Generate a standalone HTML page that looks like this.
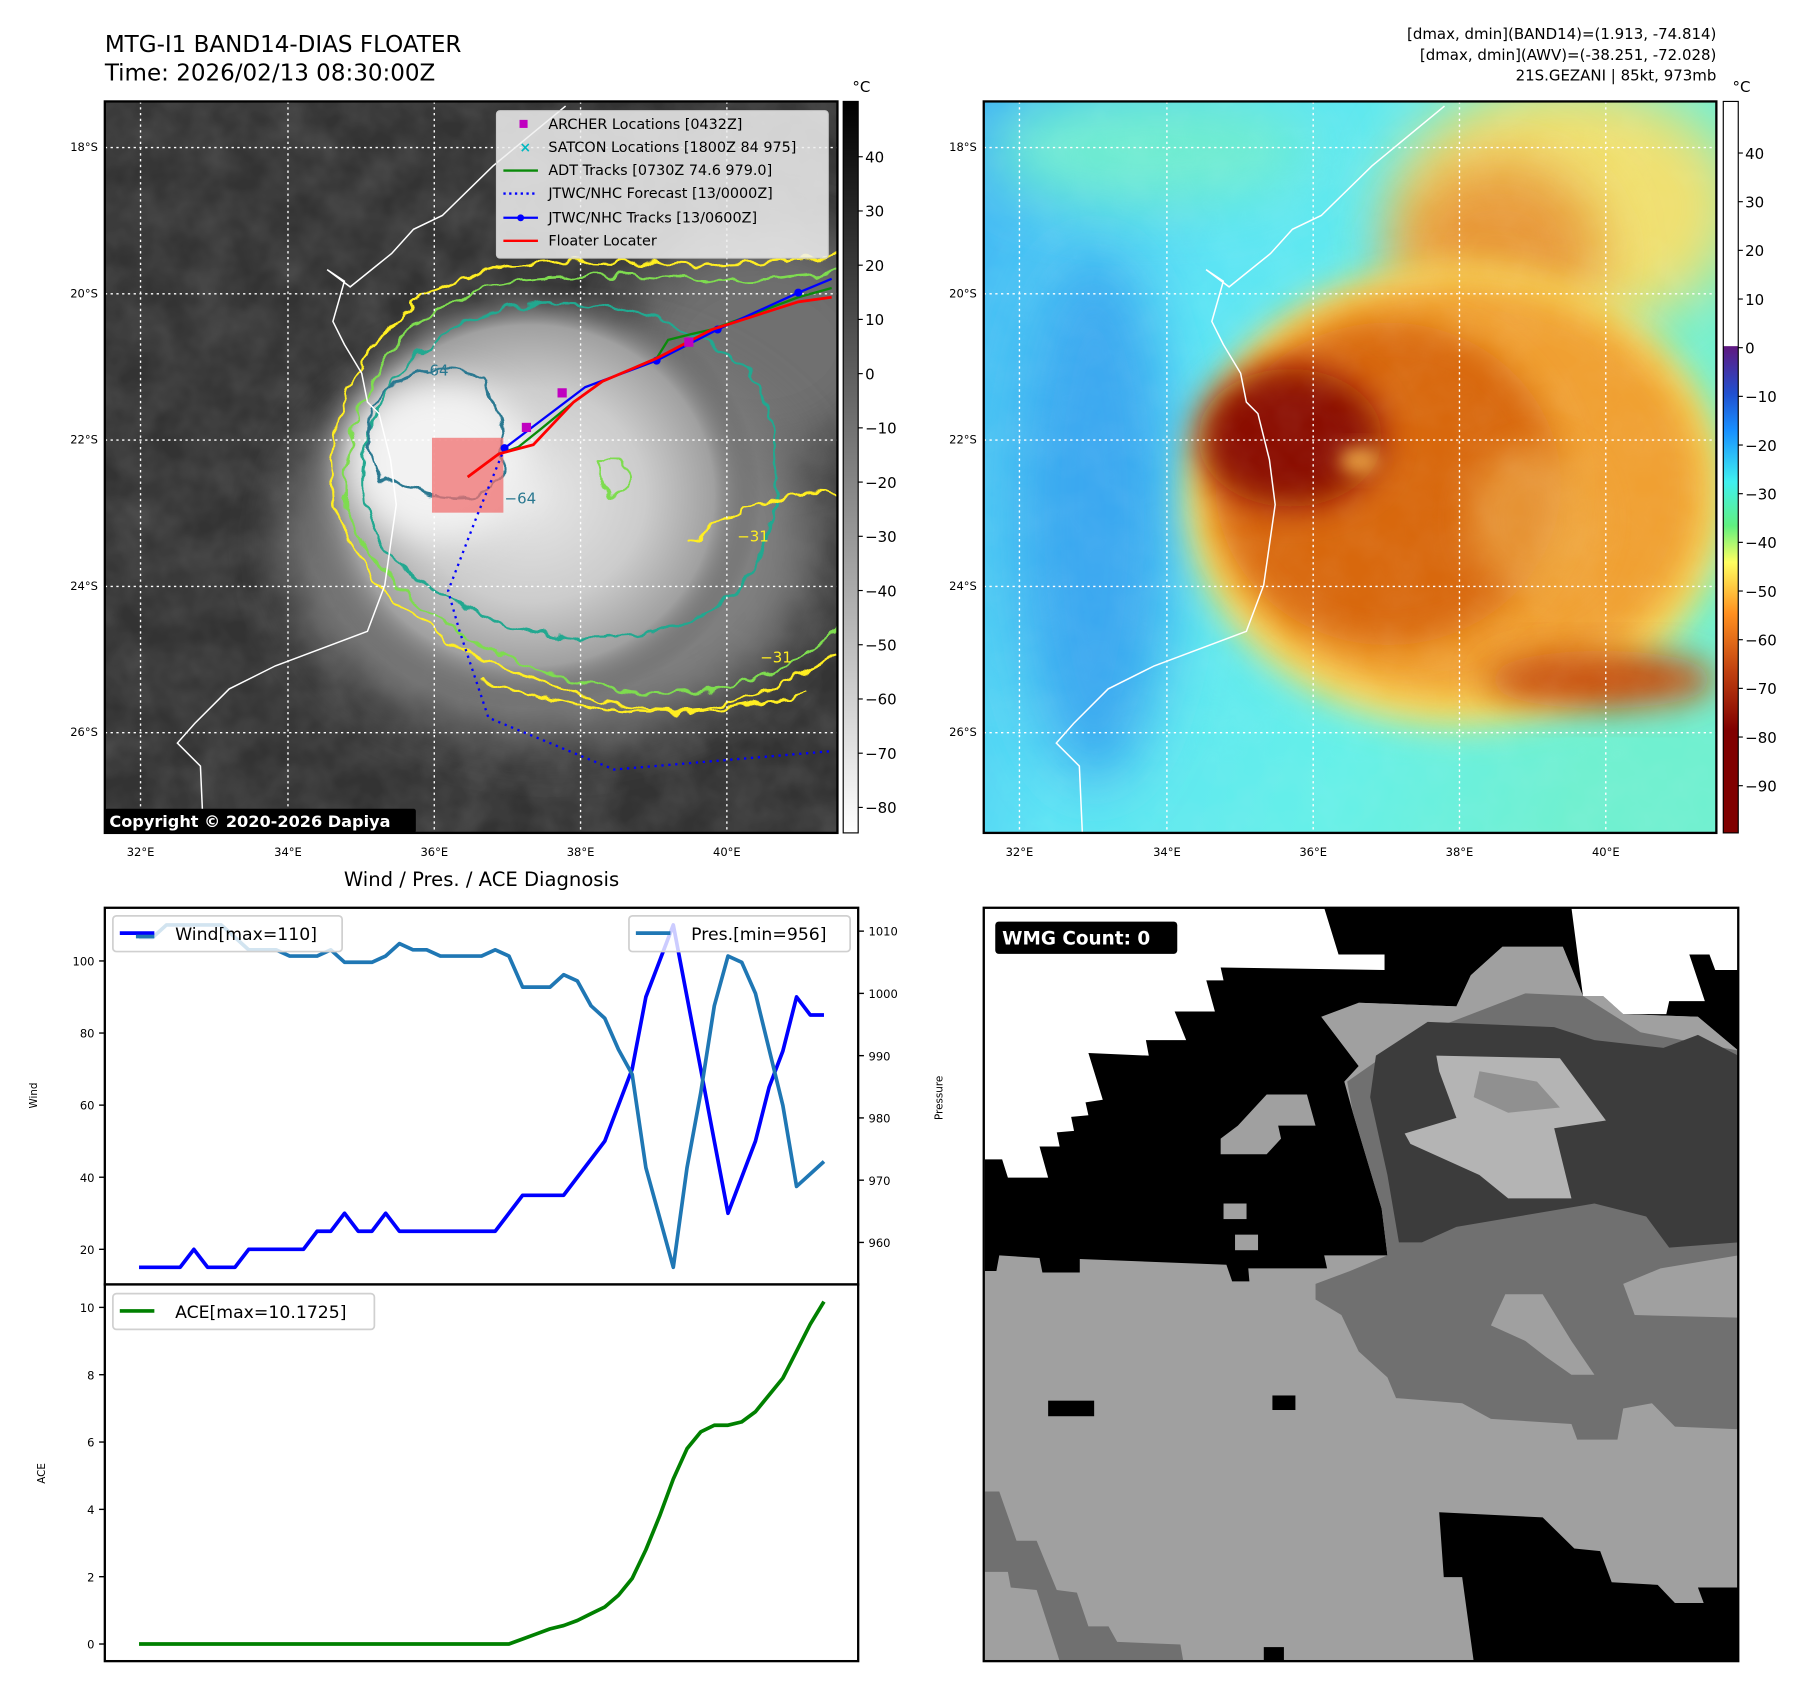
<!DOCTYPE html>
<html><head><meta charset="utf-8">
<style>
html,body{margin:0;padding:0;background:#fff;}
svg{display:block;font-family:"DejaVu Sans","Liberation Sans",sans-serif;}
</style></head>
<body>
<svg id="root" width="1797" height="1690" viewBox="0 0 1560 1467" xmlns="http://www.w3.org/2000/svg">
<defs>
  <clipPath id="clip1"><rect x="91" y="88" width="636" height="635"/></clipPath>
  <clipPath id="clip2"><rect x="854" y="88" width="636" height="635"/></clipPath>
  <clipPath id="clip4"><rect x="854" y="788" width="655" height="654"/></clipPath>
  <filter id="blur8" x="-50%" y="-50%" width="200%" height="200%"><feGaussianBlur stdDeviation="8"/></filter>
  <filter id="blur15" x="-50%" y="-50%" width="200%" height="200%"><feGaussianBlur stdDeviation="15"/></filter>
  <filter id="blur25" x="-50%" y="-50%" width="200%" height="200%"><feGaussianBlur stdDeviation="25"/></filter>
  <filter id="wig" x="-10%" y="-10%" width="120%" height="120%">
    <feTurbulence type="fractalNoise" baseFrequency="0.06" numOctaves="2" seed="3"/>
    <feDisplacementMap in="SourceGraphic" scale="14" xChannelSelector="R" yChannelSelector="G"/>
  </filter>
  <filter id="noise" x="0" y="0" width="100%" height="100%">
    <feTurbulence type="fractalNoise" baseFrequency="0.03" numOctaves="3" seed="7"/>
    <feColorMatrix type="matrix" values="0 0 0 0 1  0 0 0 0 1  0 0 0 0 1  0.6 0 0 0 -0.15"/>
  </filter>
  <radialGradient id="cloud1" cx="0.5" cy="0.5" r="0.5">
    <stop offset="0" stop-color="#e8e8e8"/>
    <stop offset="0.5" stop-color="#cccccc"/>
    <stop offset="0.8" stop-color="#a0a0a0"/>
    <stop offset="1" stop-color="#505050" stop-opacity="0"/>
  </radialGradient>
  <linearGradient id="cbar1" x1="0" y1="0" x2="0" y2="1">
    <stop offset="0" stop-color="#000"/><stop offset="1" stop-color="#fff"/>
  </linearGradient>
  <linearGradient id="cbar2" x1="0" y1="0" x2="0" y2="1">
    <stop offset="0" stop-color="#ffffff"/>
    <stop offset="0.334" stop-color="#ffffff"/>
    <stop offset="0.335" stop-color="#601880"/>
    <stop offset="0.40" stop-color="#2050d0"/>
    <stop offset="0.45" stop-color="#1890ff"/>
    <stop offset="0.52" stop-color="#40f0f0"/>
    <stop offset="0.58" stop-color="#60f080"/>
    <stop offset="0.63" stop-color="#ffff60"/>
    <stop offset="0.70" stop-color="#ff9020"/>
    <stop offset="0.78" stop-color="#c04010"/>
    <stop offset="0.86" stop-color="#800000"/>
    <stop offset="1" stop-color="#800000"/>
  </linearGradient>
  <linearGradient id="bg2" x1="0" y1="0" x2="1" y2="0.3">
    <stop offset="0" stop-color="#40b4f4"/>
    <stop offset="0.35" stop-color="#5ce4f4"/>
    <stop offset="0.7" stop-color="#66f0e8"/>
    <stop offset="1" stop-color="#70f0d0"/>
  </linearGradient>
</defs>

<!-- Titles -->
<text x="91" y="45" font-size="20">MTG-I1 BAND14-DIAS FLOATER</text>
<text x="91" y="70" font-size="20">Time: 2026/02/13 08:30:00Z</text>
<g font-size="13" text-anchor="end">
<text x="1490" y="34">[dmax, dmin](BAND14)=(1.913, -74.814)</text>
<text x="1490" y="52">[dmax, dmin](AWV)=(-38.251, -72.028)</text>
<text x="1490" y="70">21S.GEZANI | 85kt, 973mb</text>
</g>

<!-- MAP 1 -->
<g clip-path="url(#clip1)">
  <rect x="91" y="88" width="636" height="635" fill="#333"/>
  <rect x="91" y="88" width="636" height="635" filter="url(#noise)" opacity="0.3"/>
  <ellipse cx="660" cy="300" rx="120" ry="100" fill="#707070" filter="url(#blur25)"/>
  <ellipse cx="480" cy="470" rx="230" ry="170" fill="#808080" filter="url(#blur25)"/>
  <ellipse cx="460" cy="430" rx="200" ry="185" fill="url(#cloud1)"/>
  <ellipse cx="380" cy="400" rx="80" ry="70" fill="#f2f2f2" filter="url(#blur15)"/>
  <g filter="url(#wig)" fill="none" stroke-width="2.2">
    <path d="M290,440 C280,340 330,260 420,235 C500,215 600,240 680,225 L735,220 L735,560 C680,600 600,640 500,600 C420,580 330,540 290,440 Z" stroke="#ffee20"/>
    <path d="M300,440 C295,350 340,275 425,248 C500,228 600,250 690,240 L735,236 L735,540 C680,590 600,620 500,590 C420,570 340,530 300,440 Z" stroke="#7edc50"/>
    <path d="M315,430 C310,350 360,290 430,270 C520,250 600,280 650,320 C690,380 680,480 630,520 C560,570 460,560 390,520 C340,490 318,470 315,430 Z" stroke="#20a890"/>
    <path d="M325,350 C350,320 390,315 420,330 C440,360 440,400 430,425 C400,440 360,430 330,415 C318,390 318,370 325,350 Z" stroke="#2a7890"/>
    <path d="M520,400 C540,390 550,410 545,425 C535,440 515,430 520,400 Z" stroke="#7edc50"/>
    <path d="M420,590 C500,620 600,630 700,600" stroke="#ffee20"/>
    <path d="M600,470 C640,440 700,420 730,430" stroke="#ffee20"/>
  </g>
  <g font-size="13">
    <text x="362" y="326" fill="#2a7890">−64</text>
    <text x="438" y="437" fill="#2a7890">−64</text>
    <text x="640" y="470" fill="#ffee20">−31</text>
    <text x="660" y="575" fill="#ffee20">−31</text>
  </g>
  <g stroke="#fff" stroke-width="1.2" stroke-dasharray="2,3">
    <line x1="122" y1="88" x2="122" y2="723"/><line x1="250" y1="88" x2="250" y2="723"/><line x1="377" y1="88" x2="377" y2="723"/><line x1="504" y1="88" x2="504" y2="723"/><line x1="631" y1="88" x2="631" y2="723"/>
    <line x1="91" y1="128" x2="727" y2="128"/><line x1="91" y1="255" x2="727" y2="255"/><line x1="91" y1="382" x2="727" y2="382"/><line x1="91" y1="509" x2="727" y2="509"/><line x1="91" y1="636" x2="727" y2="636"/>
  </g>
  <path id="coast1" d="M491,92 L428,144 L384,187 L359,199 L340,220 L304,249 L284,234 L299,244 L289,279 L299,299 L314,324 L319,349 L329,359 L339,399 L344,438 L339,473 L334,508 L319,548 L239,578 L199,598 L169,628 L154,645 L174,665 L177,732" fill="none" stroke="#fff" stroke-width="1.3"/>
  <rect x="375" y="380" width="62" height="65" fill="#f07070" opacity="0.75"/>
  <polyline points="438,389 414,448 389,513 399,548 424,623 533,668 722,652" fill="none" stroke="#0000ff" stroke-width="2" stroke-dasharray="2,4"/>
  <polyline points="406,414 433,394 450,388 470,372 498,349 523,331 570,311 580,295 600,290 618,286 693,258 722,250" fill="none" stroke="#0a8a0a" stroke-width="2"/>
  <polyline points="438,389 508,336 570,313 623,286 693,254 722,242" fill="none" stroke="#0000ff" stroke-width="2"/>
  <g fill="#0000ff"><circle cx="438" cy="389" r="3.5"/><circle cx="570" cy="313" r="3.5"/><circle cx="623" cy="286" r="3.5"/><circle cx="693" cy="254" r="3.5"/></g>
  <polyline points="406,414 433,394 463,386 498,349 523,331 570,311 618,286 693,262 722,258" fill="none" stroke="#ff0000" stroke-width="2.4"/>
  <g fill="#c000c0"><rect x="453" y="367" width="8" height="8"/><rect x="484" y="337" width="8" height="8"/><rect x="594" y="293" width="8" height="8"/></g>
  <g>
    <rect x="431" y="96" width="288" height="128" rx="3" fill="#f0f0f0" fill-opacity="0.85" stroke="#ccc"/>
    <rect x="451" y="104" width="7" height="7" fill="#c000c0"/>
    <text x="451" y="132" font-size="12" fill="#00b8c0" font-weight="bold">×</text>
    <line x1="437" y1="148" x2="467" y2="148" stroke="#0a8a0a" stroke-width="2"/>
    <line x1="437" y1="168" x2="467" y2="168" stroke="#0000ff" stroke-width="2" stroke-dasharray="2,3"/>
    <line x1="437" y1="189" x2="467" y2="189" stroke="#0000ff" stroke-width="2"/><circle cx="452" cy="189" r="3" fill="#0000ff"/>
    <line x1="437" y1="209" x2="467" y2="209" stroke="#ff0000" stroke-width="2"/>
    <g font-size="12.5">
      <text x="476" y="112">ARCHER Locations [0432Z]</text>
      <text x="476" y="132">SATCON Locations [1800Z 84 975]</text>
      <text x="476" y="152">ADT Tracks [0730Z 74.6 979.0]</text>
      <text x="476" y="172">JTWC/NHC Forecast [13/0000Z]</text>
      <text x="476" y="193">JTWC/NHC Tracks [13/0600Z]</text>
      <text x="476" y="213">Floater Locater</text>
    </g>
  </g>
  <rect x="91" y="702" width="270" height="21" rx="2" fill="#000"/>
  <text x="95" y="718" font-size="14" font-weight="bold" fill="#fff">Copyright © 2020-2026 Dapiya</text>
</g>
<rect x="91" y="88" width="636" height="635" fill="none" stroke="#000" stroke-width="2"/>
<g font-size="10" text-anchor="end">
  <text x="85" y="131">18°S</text><text x="85" y="258">20°S</text><text x="85" y="385">22°S</text><text x="85" y="512">24°S</text><text x="85" y="639">26°S</text>
</g>
<g font-size="10" text-anchor="middle">
  <text x="122" y="743">32°E</text><text x="250" y="743">34°E</text><text x="377" y="743">36°E</text><text x="504" y="743">38°E</text><text x="631" y="743">40°E</text>
</g>
<rect x="732" y="88" width="13" height="635" fill="url(#cbar1)" stroke="#000" stroke-width="1"/>
<text x="740" y="80" font-size="13">°C</text>
<g id="cb1ticks" font-size="13"></g>

<!-- MAP 2 -->
<g clip-path="url(#clip2)">
  <rect x="854" y="88" width="636" height="635" fill="url(#bg2)"/>
  <ellipse cx="950" cy="450" rx="70" ry="230" fill="#3aa8f0" filter="url(#blur25)"/>
  <ellipse cx="1000" cy="130" rx="140" ry="50" fill="#70ecd0" filter="url(#blur25)"/>
  <ellipse cx="1360" cy="180" rx="150" ry="110" fill="#f0e070" filter="url(#blur25)"/>
  <ellipse cx="1300" cy="220" rx="90" ry="80" fill="#e89838" filter="url(#blur25)"/>
  <ellipse cx="1265" cy="430" rx="235" ry="200" fill="#f8e060" filter="url(#blur15)"/>
  <ellipse cx="1265" cy="425" rx="215" ry="180" fill="#f0a030" filter="url(#blur15)"/>
  <ellipse cx="1205" cy="420" rx="150" ry="140" fill="#d86810" filter="url(#blur15)"/>
  <ellipse cx="1390" cy="590" rx="100" ry="25" fill="#c85010" filter="url(#blur15)"/>
  <ellipse cx="1120" cy="380" rx="80" ry="60" fill="#8a0a00" filter="url(#blur15)"/>
  <ellipse cx="1180" cy="400" rx="18" ry="12" fill="#e8a040" filter="url(#blur8)"/>
  <ellipse cx="1330" cy="450" rx="55" ry="65" fill="#f0b050" filter="url(#blur15)" opacity="0.6"/>
  <rect x="854" y="88" width="636" height="635" filter="url(#noise)" opacity="0.15"/>
  <g stroke="#fff" stroke-width="1.2" stroke-dasharray="2,3">
    <line x1="885" y1="88" x2="885" y2="723"/><line x1="1013" y1="88" x2="1013" y2="723"/><line x1="1140" y1="88" x2="1140" y2="723"/><line x1="1267" y1="88" x2="1267" y2="723"/><line x1="1394" y1="88" x2="1394" y2="723"/>
    <line x1="854" y1="128" x2="1490" y2="128"/><line x1="854" y1="255" x2="1490" y2="255"/><line x1="854" y1="382" x2="1490" y2="382"/><line x1="854" y1="509" x2="1490" y2="509"/><line x1="854" y1="636" x2="1490" y2="636"/>
  </g>
  <use href="#coast1" transform="translate(763,0)"/>
</g>
<rect x="854" y="88" width="636" height="635" fill="none" stroke="#000" stroke-width="2"/>
<g font-size="10" text-anchor="end">
  <text x="848" y="131">18°S</text><text x="848" y="258">20°S</text><text x="848" y="385">22°S</text><text x="848" y="512">24°S</text><text x="848" y="639">26°S</text>
</g>
<g font-size="10" text-anchor="middle">
  <text x="885" y="743">32°E</text><text x="1013" y="743">34°E</text><text x="1140" y="743">36°E</text><text x="1267" y="743">38°E</text><text x="1394" y="743">40°E</text>
</g>
<rect x="1496" y="88" width="13" height="635" fill="url(#cbar2)" stroke="#000" stroke-width="1"/>
<text x="1504" y="80" font-size="13">°C</text>
<g id="cb2ticks" font-size="13"></g>

<!-- WIND / PRES / ACE -->
<text x="418" y="769" font-size="17" text-anchor="middle">Wind / Pres. / ACE Diagnosis</text>
<g id="windPlot"></g>
<g id="acePlot"></g>

<!-- WMG -->
<g clip-path="url(#clip4)">
<g transform="translate(854,788) scale(0.4992,0.4504) translate(-138,-45)">
  <rect x="100" y="0" width="1400" height="1550" fill="#a0a0a0"/>
  <polygon fill="#000" points="140,45 1450,45 1450,320 1380,255 1250,250 1215,215 1180,215 1145,120 1040,120 985,175 960,235 790,228 725,255 790,350 765,380 780,440 830,625 840,715 730,715 735,740 598,740 600,765 570,765 560,733 305,722 305,748 240,748 235,720 165,715 160,745 140,745"/>
  <polygon fill="#fff" points="140,45 730,45 755,135 835,135 835,165 550,160 555,185 525,185 540,245 470,245 490,300 420,300 425,330 320,325 345,415 315,420 320,445 290,448 295,475 265,478 270,505 235,505 250,565 180,565 170,530 140,530"/>
  <polygon fill="#fff" points="1160,45 1450,45 1450,165 1410,165 1400,135 1365,135 1392,225 1330,225 1325,250 1250,250 1215,215 1180,215"/>
  <polygon fill="#a0a0a0" points="725,255 785,255 790,228 960,235 985,175 1010,150 1040,120 1145,120 1180,215 1215,215 1250,250 1380,255 1450,320 1300,330 1080,210 880,295 790,350"/>
  <polygon fill="#707070" points="770,380 880,295 1080,210 1180,215 1280,285 1450,320 1450,1050 1340,1045 1300,1000 1250,1010 1240,1070 1170,1070 1160,1040 1020,1030 970,1000 855,990 840,950 790,900 760,830 715,800 715,770 775,745 840,715 830,625 780,440"/>
  <polygon fill="#3c3c3c" points="820,330 910,265 1130,275 1200,300 1320,315 1380,290 1450,330 1450,690 1330,700 1290,640 1200,615 960,660 900,690 860,690 840,560 810,410"/>
  <polygon fill="#b4b4b4" points="925,330 1140,335 1220,455 1130,470 1160,605 1050,605 1000,560 880,500 870,480 960,450 930,360"/>
  <polygon fill="#909090" points="1000,360 1100,380 1140,430 1050,440 990,410"/>
  <polygon fill="#a0a0a0" points="1045,790 1110,790 1160,880 1200,945 1160,945 1115,910 1080,880 1020,850"/>
  <polygon fill="#a0a0a0" points="1250,770 1315,740 1450,715 1450,835 1270,830"/>
  <polygon fill="#a0a0a0" points="630,405 700,405 715,465 650,465 655,490 630,520 550,520 550,490 580,465"/>
  <rect x="555" y="615" width="40" height="30" fill="#a0a0a0"/><rect x="575" y="675" width="40" height="30" fill="#a0a0a0"/>
  <polygon fill="#000" points="930,1210 1110,1220 1165,1280 1210,1285 1230,1345 1310,1350 1340,1385 1390,1385 1380,1355 1450,1355 1450,1497 990,1497 970,1335 938,1335"/>
  <polygon fill="#707070" points="140,1170 165,1170 195,1265 230,1265 265,1360 300,1365 320,1430 355,1430 370,1460 480,1465 485,1497 270,1497 230,1360 185,1355 180,1325 140,1325"/>
  <rect x="250" y="995" width="80" height="30" fill="#000"/><rect x="640" y="985" width="40" height="28" fill="#000"/><rect x="625" y="1470" width="35" height="27" fill="#000"/>
</g>
</g>
<rect x="854" y="788" width="655" height="654" fill="none" stroke="#000" stroke-width="2"/>
<rect x="864" y="800" width="158" height="28" rx="3" fill="#000"/>
<text x="870" y="820" font-size="16" font-weight="bold" fill="#fff">WMG Count: 0</text>
</svg>

<script>
// ---- chart data ----
const windValues = [15,15,15,15,20,15,15,15,20,20,20,20,20,25,25,30,25,25,30,25,25,25,25,25,25,25,25,30,35,35,35,35,40,45,50,60,70,90,100,110,90,70,50,30,40,50,65,75,90,85,85];
const presValues = [1009,1009,1011,1011,1011,1011,1011,1009,1007,1007,1007,1006,1006,1006,1007,1005,1005,1005,1006,1008,1007,1007,1006,1006,1006,1006,1007,1006,1001,1001,1001,1003,1002,998,996,991,987,972,964,956,972,984,998,1006,1005,1000,991,982,969,971,973];
const aceValues = [0,0,0,0,0,0,0,0,0,0,0,0,0,0,0,0,0,0,0,0,0,0,0,0,0,0,0,0,0.15,0.3,0.45,0.55,0.7,0.9,1.1,1.45,1.95,2.8,3.8,4.9,5.8,6.3,6.5,6.5,6.6,6.9,7.4,7.9,8.7,9.5,10.1725];
const windTicks = [20,40,60,80,100];
const presTicks = [960,970,980,990,1000,1010];
const aceTicks = [0,2,4,6,8,10];
const cb1Ticks = [40,30,20,10,0,-10,-20,-30,-40,-50,-60,-70,-80];
const cb2Ticks = [40,30,20,10,0,-10,-20,-30,-40,-50,-60,-70,-80,-90];

const NS = "http://www.w3.org/2000/svg";
function mk(tag, attrs, parent){
  const e = document.createElementNS(NS, tag);
  for (const k in attrs) e.setAttribute(k, attrs[k]);
  parent.appendChild(e);
  return e;
}
const AX = {l:91, r:745};
const W = {t:788, b:1115}, A = {t:1115, b:1442};
const n = windValues.length;
function xs(i){ const lo=-0.05*(n-1), hi=(n-1)*1.05; return AX.l + (i-lo)/(hi-lo)*(AX.r-AX.l); }
function lim(arr){ const mn=Math.min(...arr), mx=Math.max(...arr), m=(mx-mn)*0.05; return [mn-m, mx+m]; }
const wl = lim(windValues), pl = lim(presValues), al = lim(aceValues);
function ys(v, l, box){ return box.b - (v-l[0])/(l[1]-l[0])*(box.b-box.t); }
const yw = v => ys(v, wl, W), yp = v => ys(v, pl, W), ya = v => ys(v, al, A);
function pathOf(arr, yf){ return arr.map((v,i)=>(i?'L':'M')+xs(i).toFixed(1)+','+yf(v).toFixed(1)).join(' '); }

const wp = document.getElementById('windPlot');
const ap = document.getElementById('acePlot');
mk('rect',{x:AX.l,y:W.t,width:AX.r-AX.l,height:W.b-W.t,fill:'#fff'},wp);
mk('rect',{x:AX.l,y:A.t,width:AX.r-AX.l,height:A.b-A.t,fill:'#fff'},ap);

const windLine = mk('path',{d:pathOf(windValues,yw),fill:'none',stroke:'#0000ff','stroke-width':3.2,'stroke-linejoin':'round'},wp);


const presLine = mk('path',{d:pathOf(presValues,yp),fill:'none',stroke:'#1f77b4','stroke-width':3.2,'stroke-linejoin':'round'},wp);


const aceLine = mk('path',{d:pathOf(aceValues,ya),fill:'none',stroke:'#008000','stroke-width':3.2,'stroke-linejoin':'round'},ap);



windTicks.forEach(v=>{
  const y=yw(v);
  mk('line',{x1:AX.l-5,y1:y,x2:AX.l,y2:y,stroke:'#000','stroke-width':1.2},wp);
  const t=mk('text',{x:AX.l-9,y:y+4,'font-size':10,'text-anchor':'end'},wp); t.textContent=v;
  
  
});
presTicks.forEach(v=>{
  const y=yp(v);
  mk('line',{x1:AX.r,y1:y,x2:AX.r+5,y2:y,stroke:'#000','stroke-width':1.2},wp);
  const t=mk('text',{x:AX.r+9,y:y+4,'font-size':10},wp); t.textContent=v;
  
  
});
aceTicks.forEach(v=>{
  const y=ya(v);
  mk('line',{x1:AX.l-5,y1:y,x2:AX.l,y2:y,stroke:'#000','stroke-width':1.2},ap);
  const t=mk('text',{x:AX.l-9,y:y+4,'font-size':10,'text-anchor':'end'},ap); t.textContent=v;
  
  
});
let t;
t=mk('text',{x:0,y:0,'font-size':9,'text-anchor':'middle',transform:'translate(32,951) rotate(-90)'},wp); t.textContent='Wind';
 
t=mk('text',{x:0,y:0,'font-size':9,'text-anchor':'middle',transform:'translate(818,953) rotate(-90)'},wp); t.textContent='Pressure';
 
t=mk('text',{x:0,y:0,'font-size':9,'text-anchor':'middle',transform:'translate(39,1279) rotate(-90)'},ap); t.textContent='ACE';
 

function legend(parent,x,y,w,items,name){
  const g=mk('g',{},parent);
  
  
  mk('rect',{x:x,y:y,width:w,height:31,rx:3,fill:'#fff','fill-opacity':0.8,stroke:'#d0d0d0','stroke-width':1.5},g);
  items.forEach(it=>mk('line',{x1:x+6,y1:y+15,x2:x+36,y2:y+15,stroke:it.c,'stroke-width':3.2},g));
  const tx=mk('text',{x:x+54,y:y+21,'font-size':15},g); tx.textContent=items[0].label;
}
legend(wp,98,795,199,[{c:'#0000ff',label:'Wind[max='+Math.max(...windValues)+']'}],'wind-legend');
mk('line',{x1:118,y1:813,x2:134,y2:813,stroke:'#1f77b4','stroke-width':3.2},wp);
legend(wp,546,795,192,[{c:'#1f77b4',label:'Pres.[min='+Math.min(...presValues)+']'}],'pressure-legend');
legend(ap,98,1123,227,[{c:'#008000',label:'ACE[max='+Math.max(...aceValues)+']'}],'ace-legend');

mk('rect',{x:AX.l,y:W.t,width:AX.r-AX.l,height:W.b-W.t,fill:'none',stroke:'#000','stroke-width':2},wp);
mk('rect',{x:AX.l,y:A.t,width:AX.r-AX.l,height:A.b-A.t,fill:'none',stroke:'#000','stroke-width':2},ap);

const cb1 = document.getElementById('cb1ticks');
cb1Ticks.forEach(v=>{
  const y = 88 + (50.2 - v)/(50.2+84.7)*635;
  mk('line',{x1:745,y1:y,x2:749,y2:y,stroke:'#000'},cb1);
  const e=mk('text',{x:751,y:y+5},cb1); e.textContent=(v<0?'−'+(-v):v);
  
  
});
const cb2 = document.getElementById('cb2ticks');
cb2Ticks.forEach(v=>{
  const y = 88 + (50.6 - v)/(50.6+99.7)*635;
  mk('line',{x1:1509,y1:y,x2:1513,y2:y,stroke:'#000'},cb2);
  const e=mk('text',{x:1515,y:y+5},cb2); e.textContent=(v<0?'−'+(-v):v);
  
  
});
</script>
</body></html>
